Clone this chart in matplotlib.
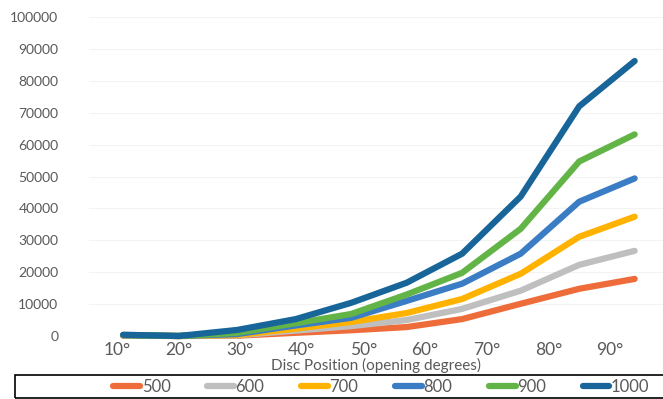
import matplotlib.pyplot as plt
from matplotlib.patches import Rectangle

# disc opening angle (degrees) and one curve per series
position = [11, 20, 29.5, 39, 48, 57, 66, 75.5, 85, 94]
series_names = ['500', '600', '700', '800', '900', '1000']
s500 = [100, 0, 100, 1000, 1800, 2800, 5300, 10100, 14800, 17900]
s600 = [150, 0, 200, 1700, 3100, 5000, 8500, 14200, 22300, 26700]
s700 = [200, 0, 300, 2300, 4400, 7200, 11600, 19500, 31100, 37400]
s800 = [250, 0, 600, 3300, 5700, 11000, 16400, 25800, 42100, 49400]
s900 = [300, 0, 1000, 4000, 6900, 13000, 19800, 33600, 54700, 63200]
s1000 = [400, 0, 1900, 5300, 10400, 16700, 25800, 43700, 72000, 86200]
tick_deg = [10, 20, 30, 40, 50, 60, 70, 80, 90]
colors = ['#EE6C3A', '#BFBFBF', '#FFB300', '#3B7DC4', '#63B446', '#176599']

plt.rcParams['font.family'] = ['Lato', 'DejaVu Sans']

fig = plt.figure(figsize=(6.63, 3.99), dpi=100)
ax = fig.add_axes([89/663, 63/399, 574/663, 319/399])

for name, vals, c in zip(series_names, [s500, s600, s700, s800, s900, s1000], colors):
    ax.plot(position, vals, color=c, lw=4.5, solid_capstyle='round',
            solid_joinstyle='round', label=name, clip_on=False)

ax.set_xlim(5.45, 98.6)
ax.set_ylim(0, 100000)
ax.set_yticks(range(0, 100001, 10000))
ax.set_xticks(tick_deg)
ax.set_xticklabels([f'{d}°' for d in tick_deg])
ax.grid(axis='y', color='#F3F3F3', lw=0.8)
ax.set_axisbelow(True)
for s in ax.spines.values():
    s.set_visible(False)
ax.tick_params(axis='y', length=0, pad=22, labelsize=10, labelcolor='#595959')
ax.tick_params(axis='x', length=0, pad=4, labelsize=12.5, labelcolor='#595959')
ax.set_xlabel('Disc Position (opening degrees)', fontsize=11, color='#595959', labelpad=0)

# legend box along the bottom
fig.patches.append(Rectangle((15/663, 1/399), 660/663, 23/399, transform=fig.transFigure,
                             fill=False, edgecolor='black', lw=1.2))
leg = fig.legend(loc='center left', bbox_to_anchor=(105/663, 12.5/399), ncol=6,
                 frameon=False, handlelength=1.6, handletextpad=0.1, columnspacing=2.2,
                 borderpad=0, prop={'size': 12})
for t in leg.get_texts():
    t.set_color('#595959')

fig.savefig('out.png', dpi=100)
